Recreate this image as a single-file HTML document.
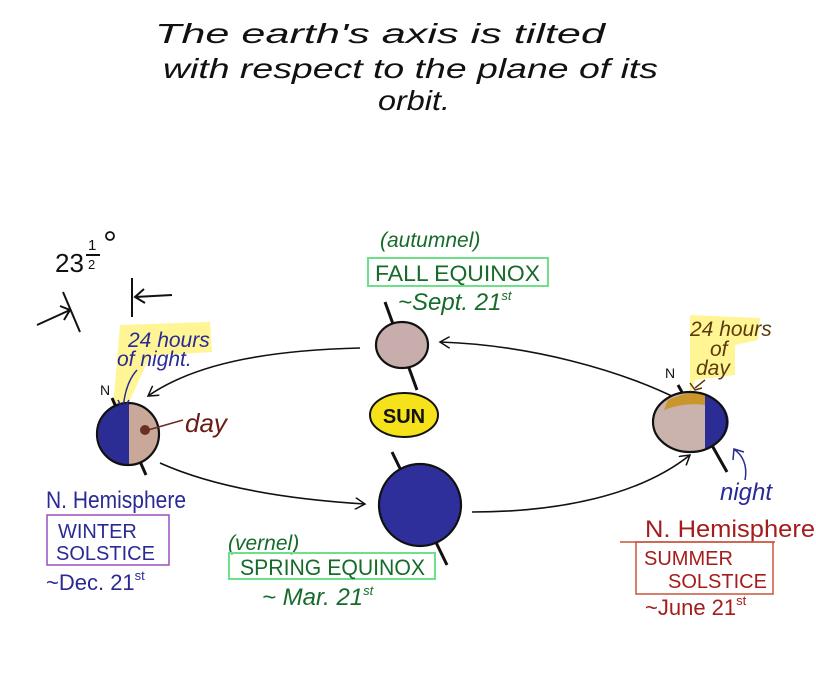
<!DOCTYPE html>
<html><head><meta charset="utf-8"><style>
html,body{margin:0;padding:0;background:#fff;}
svg{display:block;}
text{font-family:"Liberation Sans",sans-serif;}
</style></head><body>
<svg width="816" height="688" viewBox="0 0 816 688" xmlns="http://www.w3.org/2000/svg">
<rect width="816" height="688" fill="#fff"/>
<defs>
<marker id="ah" markerWidth="12" markerHeight="12" refX="10" refY="6" orient="auto" markerUnits="userSpaceOnUse">
<path d="M0,0 L10,6 L0,12" fill="none" stroke="#111" stroke-width="1.5"/></marker>
</defs>
<!-- title -->
<g fill="#111" font-size="28" font-style="italic">
<text x="155" y="43" textLength="450" lengthAdjust="spacingAndGlyphs">The  earth's  axis  is  tilted</text>
<text x="163" y="78" textLength="495" lengthAdjust="spacingAndGlyphs">with respect to the plane of its</text>
<text x="378" y="110" textLength="72" lengthAdjust="spacingAndGlyphs">orbit.</text>
</g>
<!-- highlights -->
<path d="M120,325 L210,322 L212,352 L150,356 L130,400 L112,420 Z" fill="#fff27a" opacity="0.8"/>
<path d="M690,315 L760,318 L758,340 L735,345 L735,375 L695,380 L690,395 Z" fill="#fff27a" opacity="0.8"/>
<!-- orbit -->
<g fill="none" stroke="#111" stroke-width="1.6">
<path d="M360,348 C280,350 200,360 148,396" marker-end="url(#ah)"/>
<path d="M680,400 C620,370 530,345 440,342" marker-end="url(#ah)"/>
<path d="M160,463 C220,490 300,500 365,504" marker-end="url(#ah)"/>
<path d="M472,512 C560,512 640,495 690,455" marker-end="url(#ah)"/>
</g>
<!-- 23.5 deg -->
<text x="55" y="272" font-size="26" fill="#111">23</text>
<text x="88" y="250" font-size="15" fill="#111">1</text>
<circle cx="110" cy="236" r="4" fill="none" stroke="#111" stroke-width="1.8"/>
<line x1="86" y1="255" x2="100" y2="255" stroke="#111" stroke-width="2"/>
<text x="88" y="269" font-size="13" fill="#111">2</text>
<g stroke="#111" stroke-width="2" fill="none">
<line x1="63" y1="292" x2="80" y2="332"/>
<line x1="132" y1="278" x2="132" y2="317"/>
<path d="M37,325 L70,310 M60,306 L70,310 L64,320"/>
<path d="M172,295 L135,297 M144,289 L135,297 L145,303"/>
</g>
<!-- left earth -->
<line x1="112" y1="398" x2="146" y2="475" stroke="#111" stroke-width="3"/>
<circle cx="128" cy="434" r="31" fill="#c9a89a"/>
<path d="M129,403 A31,31 0 0 0 129,465 Z" fill="#2c2d94"/>
<circle cx="128" cy="434" r="31" fill="none" stroke="#111" stroke-width="2.2"/>
<circle cx="145" cy="430" r="5" fill="#6b2e25"/>
<line x1="148" y1="430" x2="183" y2="420" stroke="#6b2e25" stroke-width="1.5"/>
<text x="100" y="395" font-size="14" fill="#111">N</text>
<text x="185" y="432" font-size="26" fill="#6b1a14" font-style="italic">day</text>
<path d="M137,370 C128,380 124,395 123,410 M118,400 L123,410 L129,400" fill="none" stroke="#2a2a95" stroke-width="1.5"/>
<text x="128" y="347" font-size="21" fill="#2a2a95" font-style="italic">24 hours</text>
<text x="117" y="366" font-size="21" fill="#2a2a95" font-style="italic">of night.</text>
<text x="46" y="508" font-size="24" fill="#2a2a95" textLength="140" lengthAdjust="spacingAndGlyphs">N. Hemisphere</text>
<rect x="47" y="515" width="122" height="50" fill="none" stroke="#9b4fc0" stroke-width="1.5"/>
<text x="58" y="538" font-size="20" fill="#2a2a95">WINTER</text>
<text x="56" y="560" font-size="20" fill="#2a2a95">SOLSTICE</text>
<text x="46" y="590" font-size="22" fill="#2a2a95">~Dec. 21<tspan font-size="13" dy="-10">st</tspan></text>
<!-- fall earth -->
<line x1="385" y1="302" x2="417" y2="390" stroke="#111" stroke-width="3"/>
<ellipse cx="402" cy="345" rx="26" ry="23" fill="#c7aeac" stroke="#111" stroke-width="2.2"/>
<text x="380" y="247" font-size="21" fill="#166b2a" font-style="italic">(autumnel)</text>
<rect x="368" y="258" width="180" height="28" fill="none" stroke="#6fe08a" stroke-width="2"/>
<text x="375" y="281" font-size="22" fill="#166b2a" textLength="165" lengthAdjust="spacingAndGlyphs">FALL EQUINOX</text>
<text x="398" y="310" font-size="24" fill="#166b2a" font-style="italic">~Sept. 21<tspan font-size="13" dy="-10">st</tspan></text>
<!-- sun -->
<ellipse cx="404" cy="415" rx="34" ry="22" fill="#f6e21a" stroke="#111" stroke-width="2"/>
<text x="404" y="423" font-size="20" font-weight="bold" fill="#111" text-anchor="middle">SUN</text>
<!-- spring earth -->
<line x1="392" y1="452" x2="447" y2="565" stroke="#111" stroke-width="3"/>
<circle cx="420" cy="505" r="41" fill="#2e2f9a" stroke="#111" stroke-width="2.2"/>
<text x="228" y="550" font-size="21" fill="#166b2a" font-style="italic">(vernel)</text>
<rect x="229" y="553" width="206" height="26" fill="none" stroke="#6fe08a" stroke-width="2"/>
<text x="240" y="575" font-size="22" fill="#166b2a" textLength="185" lengthAdjust="spacingAndGlyphs">SPRING EQUINOX</text>
<text x="262" y="605" font-size="24" fill="#166b2a" font-style="italic">~ Mar. 21<tspan font-size="13" dy="-10">st</tspan></text>
<!-- right earth -->
<line x1="678" y1="385" x2="727" y2="472" stroke="#111" stroke-width="3"/>
<ellipse cx="690" cy="422" rx="37" ry="30" fill="#c9b3ac"/>
<path d="M705,394 A37,30 0 0 1 705,450 Z" fill="#2c2d94"/>
<path d="M668,400 Q690,390 705,394 L705,405 Q685,402 664,410 Z" fill="#c8962a"/>
<ellipse cx="690" cy="422" rx="37" ry="30" fill="none" stroke="#111" stroke-width="2.2"/>
<text x="665" y="378" font-size="14" fill="#111">N</text>
<text x="690" y="336" font-size="21" fill="#5a3a0a" font-style="italic">24 hours</text>
<text x="710" y="356" font-size="21" fill="#5a3a0a" font-style="italic">of</text>
<text x="696" y="375" font-size="21" fill="#5a3a0a" font-style="italic">day</text>
<path d="M705,380 L695,388 M690,383 L695,390 L702,388" fill="none" stroke="#5a3a0a" stroke-width="1.5"/>
<path d="M745,480 C748,465 742,455 735,450 M733,460 L734,449 L744,452" fill="none" stroke="#2a2a95" stroke-width="1.5"/>
<text x="720" y="500" font-size="24" fill="#2a2a95" font-style="italic">night</text>
<text x="645" y="537" font-size="24" fill="#a51c1c" textLength="170" lengthAdjust="spacingAndGlyphs">N. Hemisphere</text>
<line x1="620" y1="542" x2="775" y2="542" stroke="#c8553c" stroke-width="1.5"/>
<rect x="636" y="542" width="137" height="52" fill="none" stroke="#c8553c" stroke-width="1.5"/>
<text x="644" y="565" font-size="20" fill="#a51c1c">SUMMER</text>
<text x="668" y="588" font-size="20" fill="#a51c1c">SOLSTICE</text>
<text x="645" y="615" font-size="22" fill="#a51c1c">~June 21<tspan font-size="13" dy="-10">st</tspan></text>
</svg>
</body></html>
